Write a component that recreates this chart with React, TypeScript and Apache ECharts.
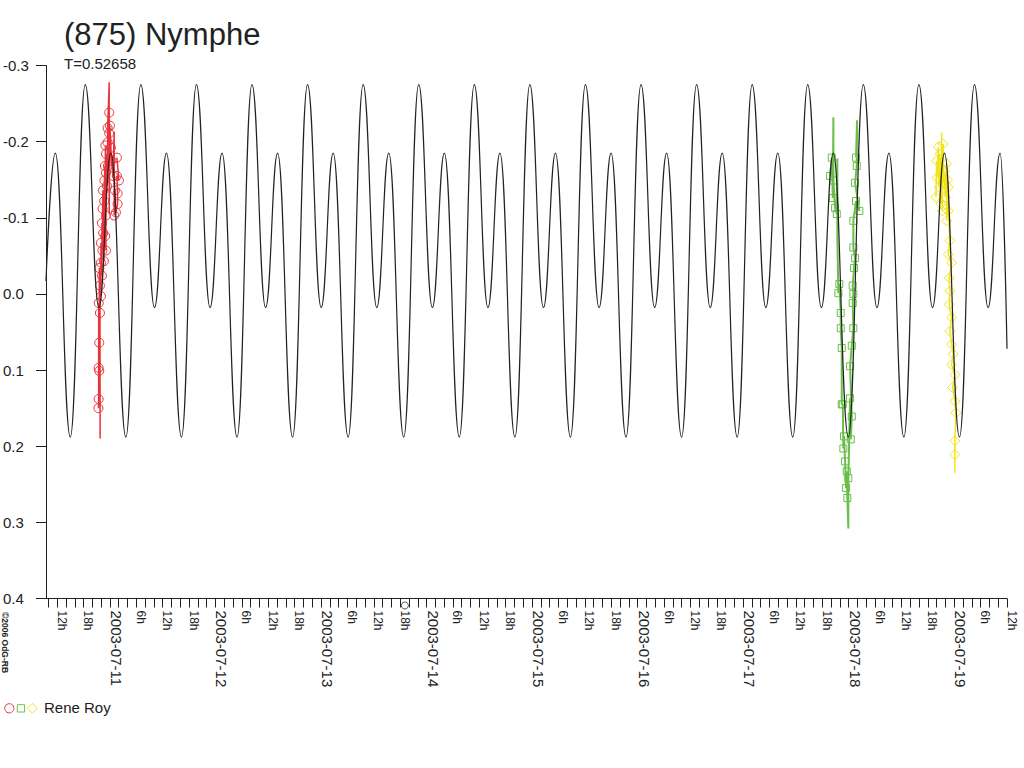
import React, { useEffect, useRef } from 'react';
import * as echarts from 'echarts';

const FONT = '"Liberation Sans", Arial, sans-serif';
const INK = '#222222';
const RED = '#e8333a';
const GREEN = '#6abf4a';
const YELLOW = '#f2e41c';

const titleText = '(875) Nymphe';
const periodText = 'T=0.52658';
const observerName = 'Rene Roy';
const copyrightText = '©2006 OdG-RB';

// x: hours since 2003-07-10 00:00 UT, y: relative magnitude (axis inverted)
const xMin = 9.46;
const xMax = 228;
const yMin = -0.3;
const yMax = 0.4;

const dateLabels = ['2003-07-11', '2003-07-12', '2003-07-13', '2003-07-14', '2003-07-15', '2003-07-16', '2003-07-17', '2003-07-18', '2003-07-19'];
const labelHours = [12, 18, 24, 30, 36, 42, 48, 54, 60, 66, 72, 78, 84, 90, 96, 102, 108, 114, 120, 126, 132, 138, 144, 150, 156, 162, 168, 174, 180, 186, 192, 198, 204, 210, 216, 222, 228];
const tickHours = Array.from({ length: 110 }, (_, i) => 10 + 2 * i);

// fitted lightcurve: extrema
const modelCurve = [
  [9.46, -0.017],
  [11.58, -0.185], [14.98, 0.188], [18.39, -0.275], [21.49, 0.018], [24.22, -0.185], [27.62, 0.188],
  [31.03, -0.275], [34.13, 0.018], [36.86, -0.185], [40.26, 0.188],
  [43.67, -0.275], [46.77, 0.018], [49.50, -0.185], [52.90, 0.188],
  [56.30, -0.275], [59.40, 0.018], [62.13, -0.185], [65.53, 0.188],
  [68.94, -0.275], [72.04, 0.018], [74.77, -0.185], [78.17, 0.188],
  [81.58, -0.275], [84.68, 0.018], [87.41, -0.185], [90.81, 0.188],
  [94.22, -0.275], [97.32, 0.018], [100.05, -0.185], [103.45, 0.188],
  [106.86, -0.275], [109.96, 0.018], [112.69, -0.185], [116.09, 0.188],
  [119.49, -0.275], [122.59, 0.018], [125.32, -0.185], [128.72, 0.188],
  [132.13, -0.275], [135.23, 0.018], [137.96, -0.185], [141.36, 0.188],
  [144.77, -0.275], [147.87, 0.018], [150.60, -0.185], [154.00, 0.188],
  [157.41, -0.275], [160.51, 0.018], [163.24, -0.185], [166.64, 0.188],
  [170.05, -0.275], [173.15, 0.018], [175.88, -0.185], [179.28, 0.188],
  [182.68, -0.275], [185.78, 0.018], [188.51, -0.185], [191.91, 0.188],
  [195.32, -0.275], [198.42, 0.018], [201.15, -0.185], [204.55, 0.188],
  [207.96, -0.275], [211.06, 0.018], [213.79, -0.185], [217.19, 0.188],
  [220.60, -0.275], [223.70, 0.018], [226.43, -0.185], [228.00, 0.072],
];

// observations [hour, mag, unmarked excursion flag]
const redObs = [
  [21.39, 0.150, 0], [21.43, 0.138, 0], [21.43, 0.097, 0], [21.45, 0.012, 0], [21.57, 0.101, 0], [21.57, 0.064, 0],
  [21.59, -0.034, 0], [21.73, 0.025, 0], [21.77, 0.190, 1], [21.73, -0.011, 0], [21.95, 0.003, 0], [21.95, -0.041, 0],
  [21.95, -0.067, 0], [22.18, -0.024, 0], [22.18, -0.093, 0], [22.29, -0.057, 0], [22.33, -0.112, 0], [22.40, -0.136, 0],
  [22.47, -0.080, 0], [22.63, -0.043, 0], [22.70, -0.122, 0], [22.75, -0.149, 0], [22.86, -0.168, 0], [22.92, -0.076, 0],
  [22.97, -0.195, 0], [23.09, -0.057, 0], [23.09, -0.103, 0], [23.09, -0.159, 0], [23.09, -0.184, 0], [23.31, -0.142, 0],
  [23.47, -0.199, 0], [23.54, -0.168, 0], [23.47, -0.218, 0], [23.83, -0.278, 1], [23.83, -0.238, 0], [23.83, -0.211, 0],
  [23.83, -0.105, 1], [23.99, -0.221, 0], [24.22, -0.192, 0], [24.33, -0.175, 0], [24.68, -0.155, 0], [24.97, -0.213, 1],
  [24.97, -0.103, 0], [25.13, -0.136, 0], [25.36, -0.107, 0], [25.74, -0.118, 0], [25.74, -0.132, 0], [25.58, -0.155, 0],
  [26.04, -0.149, 0], [25.58, -0.179, 0],
];
const greenObs = [
  [187.77, -0.155, 0], [188.16, -0.179, 0], [188.38, -0.126, 0], [188.52, -0.232, 1], [188.52, -0.149, 0], [188.90, -0.113, 0],
  [189.29, -0.105, 0], [189.42, -0.178, 1], [189.42, -0.074, 1], [189.65, -0.001, 0], [189.87, -0.013, 0], [190.19, 0.025, 0],
  [190.19, 0.045, 0], [190.42, 0.071, 0], [190.42, 0.145, 0], [190.65, 0.145, 0], [190.79, 0.203, 0], [190.94, 0.187, 0],
  [191.17, 0.220, 0], [191.40, 0.255, 0], [191.56, 0.233, 0], [191.69, 0.268, 0], [191.92, 0.308, 1], [191.92, 0.242, 0],
  [192.31, 0.137, 0], [192.47, 0.191, 0], [192.70, 0.161, 0], [192.31, 0.095, 0], [192.70, 0.068, 0], [193.06, 0.045, 0],
  [192.92, 0.012, 0], [193.06, 0.000, 0], [192.92, -0.011, 0], [193.22, -0.034, 0], [193.45, -0.047, 0], [193.06, -0.061, 0],
  [193.06, -0.096, 0], [193.67, -0.122, 0], [194.42, -0.109, 0], [193.45, -0.146, 0], [193.83, -0.168, 0], [193.90, -0.228, 1],
  [193.67, -0.179, 0],
];
const yellowObs = [
  [211.84, -0.127, 0], [211.99, -0.175, 0], [212.11, -0.153, 0], [212.36, -0.193, 0], [212.52, -0.140, 0], [212.75, -0.184, 0],
  [212.98, -0.118, 0], [213.13, -0.166, 0], [213.13, -0.212, 1], [213.30, -0.109, 0], [213.50, -0.197, 0], [213.50, -0.146, 0],
  [213.75, -0.161, 0], [213.96, -0.127, 0], [214.27, -0.171, 0], [214.27, -0.096, 0], [214.46, -0.150, 0], [214.63, -0.140, 0],
  [214.63, -0.109, 0], [215.02, -0.070, 0], [214.63, -0.052, 0], [215.40, -0.041, 0], [214.86, -0.021, 0], [215.02, -0.004, 0],
  [214.86, 0.014, 0], [215.40, 0.031, 0], [215.02, 0.049, 0], [215.40, 0.066, 0], [215.77, 0.079, 0], [215.40, 0.093, 0],
  [216.15, 0.106, 0], [215.63, 0.123, 0], [216.15, 0.141, 0], [216.38, 0.156, 0], [216.15, 0.193, 0], [216.15, 0.211, 0],
  [216.15, 0.235, 1],
];
const epochMarker = [[91.07, 0.4]];

function obsSeries(name: string, obs: number[][], color: string, symbol: string, size: number, width: number) {
  return {
    name,
    type: 'line',
    data: obs.map((p) => ({ value: [p[0], p[1]], symbol: p[2] ? 'none' : symbol })),
    symbol,
    symbolSize: size,
    showSymbol: true,
    showAllSymbol: true,
    lineStyle: { color, width },
    itemStyle: { color: 'rgba(0,0,0,0)', borderColor: color, borderWidth: 1 },
    z: 3,
  };
}

export default function App() {
  const ref = useRef<HTMLDivElement>(null);
  useEffect(() => {
    if (!ref.current) return;
    const chart = echarts.init(ref.current, undefined, { renderer: 'svg' });
    chart.setOption({
      animation: false,
      backgroundColor: '#ffffff',
      grid: { left: 45, right: 17, top: 65.5, bottom: 169.5, containLabel: false },
      xAxis: {
        type: 'value',
        min: xMin,
        max: xMax,
        axisLine: { onZero: false, lineStyle: { color: INK, width: 1 } },
        axisTick: { customValues: tickHours, length: 9, inside: false, lineStyle: { color: INK } },
        splitLine: { show: false },
        axisLabel: {
          customValues: labelHours,
          rotate: -90,
          margin: 12,
          color: INK,
          fontFamily: FONT,
          formatter: (v: number) => {
            const h = Math.round(v);
            if (h % 24 === 0) return '{d|' + dateLabels[h / 24 - 1] + '}';
            return '{h|' + (h % 24) + 'h}';
          },
          rich: {
            d: { fontSize: 15, fontFamily: FONT, color: INK, padding: [0, 0, 13, 0] },
            h: { fontSize: 12, fontFamily: FONT, color: INK, padding: [0, 0, 9, 0] },
          },
        },
      },
      yAxis: {
        type: 'value',
        inverse: true,
        min: yMin,
        max: yMax,
        interval: 0.1,
        axisLine: { show: true, onZero: false, lineStyle: { color: INK, width: 1 } },
        axisTick: { show: true, length: 10, inside: false, lineStyle: { color: INK } },
        splitLine: { show: false },
        axisLabel: {
          align: 'left',
          margin: 43,
          fontSize: 15,
          fontFamily: FONT,
          color: INK,
          padding: [0, 0, 12, 0],
          formatter: (v: number) => v.toFixed(1),
        },
      },
      series: [
        obsSeries('Rene Roy 1', redObs, RED, 'circle', 9, 1.5),
        obsSeries('Rene Roy 2', greenObs, GREEN, 'rect', 7, 2),
        obsSeries('Rene Roy 3', yellowObs, YELLOW, 'diamond', 10, 1.5),
        {
          name: 'model',
          type: 'line',
          data: modelCurve,
          smooth: 0.45,
          smoothMonotone: 'x',
          showSymbol: false,
          symbol: 'none',
          lineStyle: { color: INK, width: 1.2 },
          z: 4,
        },
        {
          name: 'epoch',
          type: 'scatter',
          data: epochMarker,
          symbol: 'circle',
          symbolSize: 7,
          symbolOffset: [0, 7],
          clip: false,
          itemStyle: { color: 'rgba(0,0,0,0)', borderColor: INK, borderWidth: 1 },
          z: 5,
        },
      ],
      graphic: [
        { type: 'text', x: 64, y: 34.5, style: { text: titleText, fontSize: 31, fontFamily: FONT, fill: INK, align: 'left', verticalAlign: 'middle' } },
        { type: 'text', x: 64, y: 63, style: { text: periodText, fontSize: 15, fontFamily: FONT, fill: INK, align: 'left', verticalAlign: 'middle' } },
        { type: 'text', x: 0, y: 612, rotation: -Math.PI / 2, style: { text: copyrightText, fontSize: 8.5, fontWeight: 'bold', fontFamily: FONT, fill: INK, align: 'left', verticalAlign: 'bottom' } },
        { type: 'circle', shape: { cx: 9.3, cy: 708.3, r: 4.6 }, style: { fill: 'none', stroke: RED, lineWidth: 1 } },
        { type: 'rect', shape: { x: 17.3, y: 704.7, width: 7.3, height: 7.3 }, style: { fill: 'none', stroke: GREEN, lineWidth: 1 } },
        { type: 'polygon', shape: { points: [[32.3, 703.3], [37.3, 708.3], [32.3, 713.3], [27.3, 708.3]] }, style: { fill: 'none', stroke: YELLOW, lineWidth: 1 } },
        { type: 'text', x: 44, y: 707, style: { text: observerName, fontSize: 15, fontFamily: FONT, fill: INK, align: 'left', verticalAlign: 'middle' } },
      ],
    });
    return () => chart.dispose();
  }, []);
  return <div ref={ref} style={{ position: 'fixed', left: 0, top: 0, width: 1024, height: 768, background: '#fff' }} />;
}
